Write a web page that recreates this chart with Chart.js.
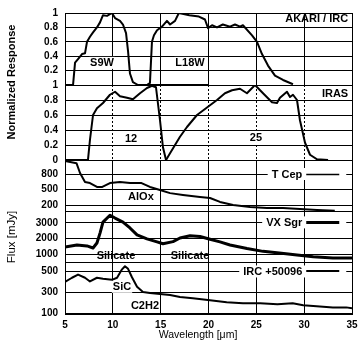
<!DOCTYPE html>
<html><head><meta charset="utf-8">
<script src="https://cdn.jsdelivr.net/npm/chart.js@4/dist/chart.umd.min.js"></script>
<style>
html,body{margin:0;padding:0;background:#fff;}
#wrap{position:relative;width:363px;height:350px;overflow:hidden;background:#fff;}
#wrap canvas{position:absolute;left:0;top:0;}
</style></head><body>
<div id="wrap">
<canvas id="c1" width="363" height="350"></canvas>
<canvas id="c2" width="363" height="350"></canvas>
<canvas id="c3" width="363" height="350"></canvas>
<canvas id="c4" width="363" height="350"></canvas>
<canvas id="c5" width="363" height="350"></canvas>
</div>
<script>
// ---------- data ----------
const xTicks = [5, 10, 15, 20, 25, 30, 35];

// AKARI / IRC filter responses
const s9wWave = [5.0,5.84,6.05,6.36,6.78,7.09,7.3,7.61,7.93,8.34,8.66,8.97,9.39,9.91,10.23,10.75,11.06,11.38,11.59,11.79,12.1,12.63,20.0];
const s9wResp = [0,0,0.31,0.36,0.43,0.44,0.6,0.67,0.73,0.8,0.87,0.97,0.96,1.0,0.93,0.89,0.84,0.72,0.47,0.16,0.04,0,0];
const l18wWave = [13.57,13.88,14.09,14.3,14.62,15.14,15.66,15.98,16.5,16.9,18.0,19.0,19.63,19.95,20.37,20.89,21.5,22.25,22.77,23.29,23.6,24.55,25.07,25.59,26.22,26.95,27.79,28.83];
const l18wResp = [0,0.03,0.6,0.69,0.76,0.81,0.89,0.84,0.89,1.0,0.97,0.95,0.91,0.79,0.83,0.8,0.84,0.81,0.84,0.81,0.83,0.69,0.6,0.43,0.27,0.13,0.07,0.01];

// IRAS band responses
const iras12Wave = [5.0,7.4,7.61,7.93,8.34,8.97,9.7,10.23,10.75,11.48,12.1,12.84,13.57,14.09,14.51,14.93,15.24,15.56];
const iras12Resp = [0,0,0.27,0.6,0.69,0.76,0.87,0.91,0.85,0.83,0.81,0.89,0.96,0.99,0.97,0.53,0.17,0];
const iras25Wave = [15.56,15.98,16.5,17.02,17.75,18.8,19.95,20.89,21.72,22.46,23.29,24.02,24.86,25.7,26.64,27.16,27.47,28.2,28.52,28.83,29.25,29.56,30.09,30.61,31.34,32.5];
const iras25Resp = [0,0.09,0.2,0.31,0.44,0.6,0.71,0.8,0.89,0.93,0.95,0.89,1.0,0.89,0.77,0.76,0.83,0.91,0.84,0.87,0.8,0.53,0.23,0.07,0.01,0];

// Spectra (mJy)
const tcepWave = [5.0,6.2,6.57,7.09,7.61,8.34,8.9,9.7,10.75,11.8,13.0,13.88,14.93,15.98,17.33,19.11,20.16,21.2,22.57,24.34,26.11,27.79,29.56,31.34,33.2];
const tcepFlux = [1050,1010,820,645,625,550,550,625,645,625,625,550,490,430,395,355,335,260,200,160,140,140,125,105,88];
const vxsgrWave = [5.0,6.25,7.3,7.93,8.34,8.66,8.97,9.7,10.23,11.06,11.79,12.53,13.57,14.62,15.24,16.29,17.02,18.07,19.11,20.16,21.2,22.25,24.02,25.7,27.4,29.25,30.95,33.0,35.0];
const vxsgrFlux = [1450,1580,1520,1390,1710,2350,3060,3500,3320,3060,2680,2230,1980,1780,1660,1800,2030,2180,2130,1950,1780,1580,1350,1170,1065,940,820,740,740];
const ircWave = [5.0,5.73,6.36,7.09,7.61,8.34,8.97,9.91,10.44,10.96,11.27,11.59,12.0,12.53,13.15,13.88,14.93,15.98,17.02,18.36,20.16,21.9,23.6,25.4,27.2,28.8,29.9,31.3,33.0,34.4,35.0];
const ircFlux = [400,440,470,440,405,440,430,420,440,520,550,525,445,355,305,295,285,275,256,246,227,207,197,197,188,197,178,168,158,158,150];

// y tick values and labels
const akariTicks = [0.2, 0.4, 0.6, 0.8, 1];
const akariTickLabels = ['0.2', '0.4', '0.6', '0.8', '1'];
const irasTicks = [0, 0.2, 0.4, 0.6, 0.8, 1];
const irasTickLabels = ['0', '0.2', '0.4', '0.6', '0.8', '1'];
const tcepTicks = [200, 500, 800];
const tcepTickLabels = ['200', '500', '800'];
const vxsgrTicks = [1000, 2000, 3000];
const vxsgrTickLabels = ['1000', '2000', '3000'];
const ircTicks = [100, 300, 500];
const ircTickLabels = ['100', '300', '500'];

// ---------- layout / style ----------
const W = 363, H = 350, PLOT_L = 65, PLOT_R = 352;
const FONT = '"Liberation Sans", Arial, Helvetica, sans-serif';
const pts = (xs, ys) => xs.map((x, i) => ({x: x, y: ys[i]}));

const panels = [
  {id:'c1', top:10, bottom:85, min:0, max:1, ticks:akariTicks, tickLabels:akariTickLabels, xDash:[],
   series:[{x:s9wWave, y:s9wResp, w:2}, {x:l18wWave, y:l18wResp, w:2}],
   notes:[{t:'S9W', x:8.87, y:0.307, bg:true}, {t:'L18W', x:18.07, y:0.307, bg:true},
          {t:'AKARI / IRC', x:34.6, y:0.92, align:'right'}],
   legend:[]},
  {id:'c2', top:85, bottom:160, min:0, max:1, ticks:irasTicks, tickLabels:irasTickLabels, xDash:[2,2],
   series:[{x:iras12Wave, y:iras12Resp, w:2}, {x:iras25Wave, y:iras25Resp, w:2}],
   notes:[{t:'12', x:11.9, y:0.293, bg:true}, {t:'25', x:24.96, y:0.307, bg:true},
          {t:'IRAS', x:34.6, y:0.893, align:'right'}],
   legend:[]},
  {id:'c3', top:160, bottom:211, min:84, max:1071, ticks:tcepTicks, tickLabels:tcepTickLabels, xDash:[],
   series:[{x:tcepWave, y:tcepFlux, w:2}],
   notes:[{t:'AlOx', x:12.94, y:360, bg:true}],
   legend:[{t:'T Cep', x:29.8, y:800, w:1.5}]},
  {id:'c4', top:211, bottom:262, min:484, max:3774, ticks:vxsgrTicks, tickLabels:vxsgrTickLabels, xDash:[],
   series:[{x:vxsgrWave, y:vxsgrFlux, w:3}],
   notes:[{t:'Silicate', x:10.33, y:936}, {t:'Silicate', x:18.07, y:936}],
   legend:[{t:'VX Sgr', x:29.8, y:3040, w:3}]},
  {id:'c5', top:262, bottom:314, min:95, max:590, ticks:ircTicks, tickLabels:ircTickLabels, xDash:[], isBottom:true,
   series:[{x:ircWave, y:ircFlux, w:2}],
   notes:[{t:'SiC', x:10.96, y:354, bg:true}, {t:'C2H2', x:13.36, y:180}],
   legend:[{t:'IRC +50096', x:29.8, y:500, w:2}]}
];

const al = v => Math.round(v - 0.5) + 0.5;

function makePlugin(p) {
  return {
    id: 'panelDeco_' + p.id,
    afterDatasetsDraw(chart) {
      const ctx = chart.ctx, xs = chart.scales.x, ys = chart.scales.y;
      ctx.save();
      ctx.font = 'bold 11px ' + FONT;
      ctx.textBaseline = 'middle';
      // annotations
      p.notes.forEach(n => {
        const px = xs.getPixelForValue(n.x), py = ys.getPixelForValue(n.y);
        const w = ctx.measureText(n.t).width;
        const left = n.align === 'right' ? px - w : px - w / 2;
        if (n.bg) {
          ctx.fillStyle = '#fff';
          ctx.fillRect(left - 1, py - 6, w + 2, 12);
        }
        ctx.fillStyle = '#000';
        ctx.textAlign = 'left';
        ctx.fillText(n.t, left, py + 0.5);
      });
      // legend entries
      p.legend.forEach(l => {
        const px = xs.getPixelForValue(l.x), py = ys.getPixelForValue(l.y);
        const w = ctx.measureText(l.t).width;
        ctx.fillStyle = '#fff';
        ctx.fillRect(px - w - 4, py - 6, w + 4 + 44, 12);
        ctx.fillStyle = '#000';
        ctx.textAlign = 'right';
        ctx.fillText(l.t, px, py + 0.5);
        ctx.strokeStyle = '#000';
        ctx.lineWidth = l.w;
        ctx.beginPath();
        ctx.moveTo(px + 4, Math.round(py) + (l.w % 2 ? 0.5 : 0));
        ctx.lineTo(px + 37, Math.round(py) + (l.w % 2 ? 0.5 : 0));
        ctx.stroke();
      });
      ctx.restore();
    },
    afterDraw(chart) {
      const a = chart.chartArea, ctx = chart.ctx;
      ctx.save();
      ctx.strokeStyle = '#000';
      ctx.lineWidth = 1;
      ctx.setLineDash([]);
      const x1 = al(a.left), x2 = al(a.right), y1 = al(a.top), y2 = al(a.bottom);
      ctx.strokeRect(x1, y1, x2 - x1, y2 - y1);
      if (p.isBottom) {
        ctx.fillStyle = '#000';
        ctx.textAlign = 'center';
        ctx.textBaseline = 'middle';
        ctx.font = '10.5px ' + FONT;
        ctx.fillText('Wavelength [\u03bcm]', 198, 335);
        ctx.save();
        ctx.translate(12, 82);
        ctx.rotate(-Math.PI / 2);
        ctx.font = 'bold 11px ' + FONT;
        ctx.fillText('Normalized Response', 0, 0);
        ctx.restore();
        ctx.save();
        ctx.translate(12, 237);
        ctx.rotate(-Math.PI / 2);
        ctx.font = '11.5px ' + FONT;
        ctx.fillText('Flux [mJy]', 0, 0);
        ctx.restore();
      }
      ctx.restore();
    }
  };
}

panels.forEach(p => {
  new Chart(document.getElementById(p.id), {
    type: 'line',
    data: {
      datasets: p.series.map(s => ({
        data: pts(s.x, s.y), borderColor: '#000', borderWidth: s.w,
        pointRadius: 0, tension: 0, fill: false, borderJoinStyle: 'round'
      }))
    },
    options: {
      responsive: false, animation: false, devicePixelRatio: 1, events: [],
      layout: {padding: {left: 0, right: W - PLOT_R, top: p.top, bottom: p.isBottom ? 0 : H - p.bottom}},
      plugins: {legend: {display: false}, tooltip: {enabled: false}},
      scales: {
        x: {
          type: 'linear', min: 5, max: 35,
          afterBuildTicks: s => { s.ticks = xTicks.map(v => ({value: v})); },
          afterFit: s => { s.height = p.isBottom ? H - p.bottom : 0; },
          grid: {color: '#000', lineWidth: 1, drawTicks: false},
          border: {display: false, dash: p.xDash},
          ticks: {display: !!p.isBottom, color: '#000', padding: 5, maxRotation: 0, autoSkip: false,
                  font: {family: FONT, size: 10, weight: 'bold'}}
        },
        y: {
          type: 'linear', min: p.min, max: p.max,
          afterBuildTicks: s => { s.ticks = p.ticks.map(v => ({value: v})); },
          afterFit: s => { s.width = PLOT_L; },
          grid: {color: '#000', lineWidth: 1, drawTicks: false},
          border: {display: false},
          ticks: {color: '#000', padding: 7, autoSkip: false,
                  font: {family: FONT, size: 10, weight: 'bold'},
                  callback: v => p.tickLabels[p.ticks.indexOf(v)]}
        }
      }
    },
    plugins: [makePlugin(p)]
  });
});
</script>
</body></html>
